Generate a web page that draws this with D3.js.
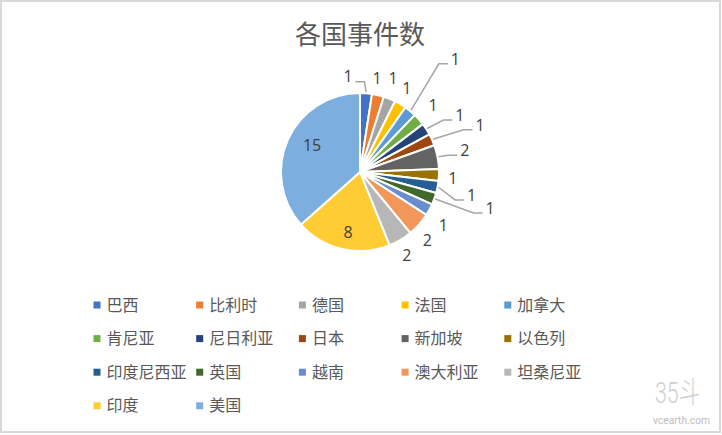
<!DOCTYPE html>
<html><head><meta charset="utf-8">
<script src="https://cdn.jsdelivr.net/npm/d3@7/dist/d3.min.js"></script>
<style>html,body{margin:0;padding:0;background:#fff;}svg{display:block;}</style>
</head><body>
<svg id="c" width="722" height="435"></svg>
<script>
// ---- data ----
const categories = ["巴西","比利时","德国","法国","加拿大","肯尼亚","尼日利亚","日本","新加坡","以色列","印度尼西亚","英国","越南","澳大利亚","坦桑尼亚","印度","美国"];
const values = [1,1,1,1,1,1,1,1,2,1,1,1,1,2,2,8,15];
const colors = ["#4472C4","#ED7D31","#A5A5A5","#FFC000","#5B9BD5","#70AD47","#264478","#9E480E","#636363","#997300","#255E91","#43682B","#698ED0","#F1975A","#B7B7B7","#FFCD33","#7CAFDD"];
const title = "各国事件数";

// ---- label layout (distance from centre, angular nudge in degrees, leader flag) ----
const labelDist  = [96,95,99,96,148,99,115,129,107,93,114,135,99,96,96,61,55];
const labelNudge = [-11.6,-2.8,-2.5,-1.5,0.6,-0.8,3.2,2.7,-0.8,1.5,0.6,-4.3,4.1,3.7,1.5,-1.9,5.3];
const hasLeader  = [1,0,0,0,1,0,1,1,1,0,1,1,0,0,0,0,0];

const svg = d3.select("#c");
const W = 722, H = 435;

svg.append("rect").attr("x",1).attr("y",1).attr("width",719).attr("height",431)
  .attr("fill","#fff").attr("stroke","#d9d9d9").attr("stroke-width",2);

svg.append("text").attr("x",360).attr("y",44).attr("text-anchor","middle")
  .attr("font-family","'Noto Sans CJK SC'").attr("font-size",26).attr("fill","#595959")
  .text(title);

const cx = 360, cy = 172, R = 79;
const g = svg.append("g").attr("transform",`translate(${cx},${cy})`);
const pie = d3.pie().sort(null).value(d=>d)(values);
const arc = d3.arc().innerRadius(0).outerRadius(R);

g.selectAll("path.slice").data(pie).join("path")
  .attr("class","slice")
  .attr("d",arc)
  .attr("fill",(d,i)=>colors[i])
  .attr("stroke","#fff").attr("stroke-width",2).attr("stroke-linejoin","round");

const pol = (a, r) => [r*Math.sin(a), -r*Math.cos(a)];

pie.forEach((d,i)=>{
  const mid = (d.startAngle+d.endAngle)/2;
  const a = mid + labelNudge[i]*Math.PI/180;
  const [lx, ly] = pol(a, labelDist[i]);
  if (hasLeader[i]) {
    const p0 = pol(mid, R+1);
    const side = lx > p0[0] ? 1 : -1;
    const p2 = [lx - side*7.5, ly + 5];
    const p1 = [p2[0] - side*9, ly + 5];
    g.append("polyline").attr("points",[p0,p1,p2].map(p=>p.join(",")).join(" "))
      .attr("fill","none").attr("stroke","#a6a6a6").attr("stroke-width",1.5);
  }
  g.append("text").attr("x",lx).attr("y",ly+5.7).attr("text-anchor","middle")
    .attr("font-family","'Open Sans'").attr("font-size",16).attr("fill","#404040")
    .text(values[i]);
});

// ---- legend ----
const cols = 5, colW = 102.7, x0 = 93.5, y0 = 305, rowH = 33.6;
const lg = svg.append("g");
categories.forEach((c,i)=>{
  const col = i % cols, row = Math.floor(i/cols);
  const x = x0 + col*colW, y = y0 + row*rowH;
  lg.append("rect").attr("x",x).attr("y",y-3.5).attr("width",7).attr("height",7).attr("fill",colors[i]);
  lg.append("text").attr("x",x+13).attr("y",y+5.5)
    .attr("font-family","'Noto Sans CJK SC'").attr("font-size",16).attr("fill","#595959").text(c);
});

// ---- watermark ----
svg.append("text").attr("x",655).attr("y",403).attr("textLength",45).attr("lengthAdjust","spacingAndGlyphs")
  .attr("font-family","Roboto, 'Noto Sans CJK SC'").attr("font-weight",300).attr("font-size",30).attr("fill","#cfcfcf").text("35斗");
svg.append("text").attr("x",653).attr("y",424).attr("textLength",57).attr("lengthAdjust","spacingAndGlyphs")
  .attr("font-family","Roboto").attr("font-size",11).attr("fill","#bdbdbd").text("vcearth.com");
</script>
</body></html>
